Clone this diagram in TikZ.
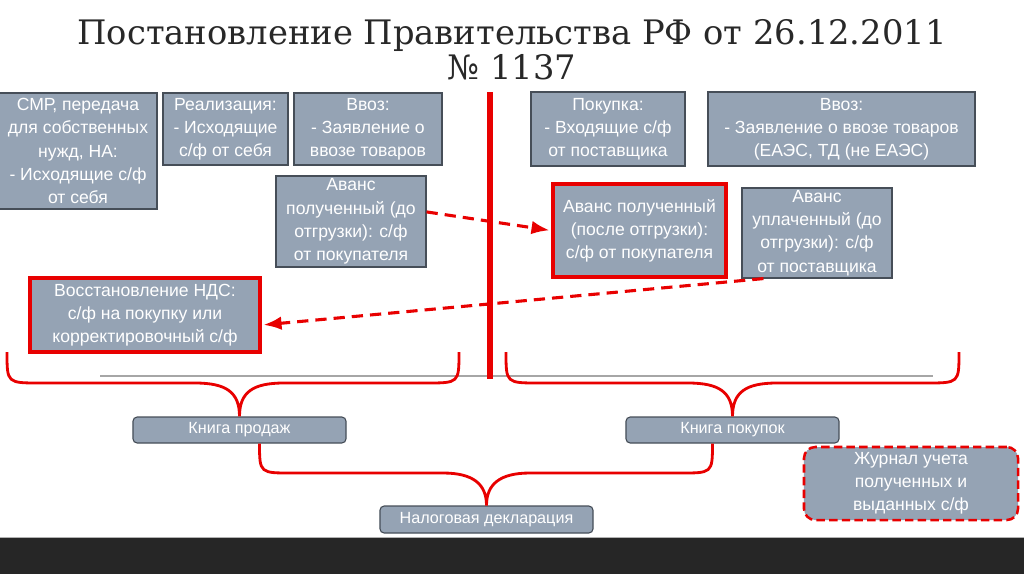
\documentclass[tikz,border=0pt]{standalone}
\usepackage{fontspec}
\setmainfont{Liberation Sans}
\newfontfamily\titlefont{DejaVu Serif}
\usetikzlibrary{arrows.meta,positioning}
\definecolor{boxgray}{RGB}{149,163,180}
\definecolor{boxline}{RGB}{70,78,88}
\definecolor{mainred}{RGB}{232,0,0}
\definecolor{titlegray}{RGB}{40,40,40}
\definecolor{darkband}{RGB}{38,38,38}

\begin{document}
\begin{tikzpicture}[
    x=0.025cm,
    y=-0.025cm,
    >=Latex,
    box/.style={
        draw=boxline,
        line width=0.8pt,
        fill=boxgray,
        text=white,
        align=center,
        inner sep=0pt,
        font=\fontsize{12.5}{16.5}\selectfont
    },
    redbox/.style={
        box,
        draw=mainred,
        line width=2.8pt
    },
    bookbox/.style={
        box,
        rounded corners=3pt,
        minimum width=5.325cm,
        font=\fontsize{11.5}{16.5}\selectfont
    },
    dasharrow/.style={
        ->,
        mainred,
        line width=2.2pt,
        dash pattern=on 8pt off 5pt,
        shorten >=1pt
    },
    brace/.style={
        mainred,
        line width=2pt
    }
]

\useasboundingbox (0,0) rectangle (1024,574);
\fill[darkband] (0,537) rectangle (1024,574);
\draw[gray!60, line width=0.6pt] (0,537) -- (1024,537);

\node[font=\titlefont\fontsize{24}{25}\selectfont, text=titlegray, align=center] (title)
    at (512,50) {Постановление Правительства РФ от 26.12.2011\\№ 1137};

\draw[gray!70, line width=1.4pt] (100,376) -- (933,376);

\node[box, minimum width=3.95cm, minimum height=2.9cm] (smr) at (78,151)
{СМР, передача\\для собственных\\нужд, НА:\\- Исходящие с/ф\\от себя};

\node[box, minimum width=3.125cm, minimum height=1.8cm] (realiz) at (225.5,129)
{Реализация:\\- Исходящие\\с/ф от себя};

\node[box, minimum width=3.7cm, minimum height=1.8cm] (vvozsale) at (368,129)
{Ввоз:\\- Заявление о\\ввозе товаров};

\node[box, minimum width=3.75cm, minimum height=2.275cm] (avansdo) at (351,221.5)
{Аванс\\полученный (до\\отгрузки): с/ф\\от покупателя};

\node[redbox, minimum width=5.75cm, minimum height=1.85cm] (vosst) at (145,315)
{Восстановление НДС:\\с/ф на покупку или\\корректировочный с/ф};

\node[box, minimum width=3.85cm, minimum height=1.85cm] (pokupka) at (608,129)
{Покупка:\\- Входящие с/ф\\от поставщика};

\node[box, minimum width=6.675cm, minimum height=1.85cm] (vvozbuy) at (841.5,129)
{Ввоз:\\- Заявление о ввозе товаров\\(ЕАЭС, ТД (не ЕАЭС)};

\node[redbox, minimum width=4.325cm, minimum height=2.325cm] (avansposle) at (639.5,230.5)
{Аванс полученный\\(после отгрузки):\\с/ф от покупателя};

\node[box, minimum width=3.75cm, minimum height=2.25cm] (avanspaid) at (817,233)
{Аванс\\уплаченный (до\\отгрузки): с/ф\\от поставщика};

\node[bookbox, minimum height=0.65cm] (prodazh) at (239.5,430) {Книга продаж};
\node[bookbox, minimum height=0.65cm] (pokupok) at (732.5,430) {Книга покупок};
\node[bookbox, minimum height=0.675cm] (decl) at (486.5,519.5) {Налоговая декларация};

\node[box, draw=mainred, line width=1.8pt, dash pattern=on 6pt off 3pt,
    rounded corners=8pt, minimum width=5.35cm, minimum height=1.825cm] (zhurnal)
    at (911,483.5) {Журнал учета\\полученных и\\выданных с/ф};

\draw[mainred, line width=3.6pt] (490,92) -- (490,379);

\draw[dasharrow] ([yshift=0.24cm]avansdo.east) -- (avansposle.west);
\draw[dasharrow] ([xshift=0.55cm]avanspaid.south west) -- ([yshift=-0.25cm]vosst.east);

\draw[brace] (7,352) .. controls (7,383) .. (40,383) -- (195,383)
    .. controls (226,383) and (239.5,392) .. (prodazh.north)
    .. controls (239.5,392) and (253,383) .. (284,383) -- (426,383)
    .. controls (459,383) .. (459,352);
\draw[brace] (506,352) .. controls (506,383) .. (539,383) -- (688,383)
    .. controls (719,383) and (732.5,392) .. (pokupok.north)
    .. controls (732.5,392) and (746,383) .. (777,383) -- (926,383)
    .. controls (959,383) .. (959,352);
\draw[brace] ([xshift=0.5cm]prodazh.south) .. controls +(0,30) and +(-33,0) .. (293,473)
    -- (443,473) .. controls (473,473) and (486.5,484) .. (decl.north)
    .. controls (486.5,484) and (500,473) .. (530,473) -- (679,473)
    .. controls +(33,0) and +(0,30) .. ([xshift=-0.5cm]pokupok.south);

\end{tikzpicture}
\end{document}
